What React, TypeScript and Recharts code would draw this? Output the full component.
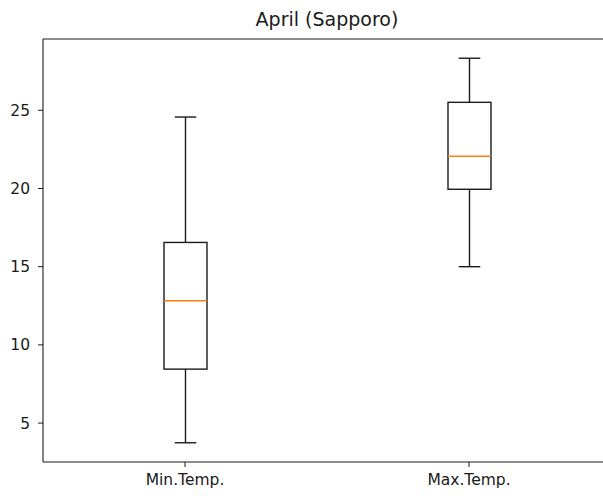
import { Bar, ComposedChart, ReferenceLine, XAxis, YAxis } from 'recharts';

const categories = ['Min.Temp.', 'Max.Temp.'];
const whiskerLow = [3.74, 15.0];
const q1 = [8.45, 19.95];
const median = [12.82, 22.06];
const q3 = [16.55, 25.51];
const whiskerHigh = [24.57, 28.33];
const yTicks = [5, 10, 15, 20, 25];

const data = categories.map((name, i) => ({
  name,
  low: whiskerLow[i],
  q1: q1[i],
  median: median[i],
  q3: q3[i],
  high: whiskerHigh[i],
}));

const lo = Math.min(...whiskerLow);
const hi = Math.max(...whiskerHigh);
const pad = (hi - lo) * 0.05;
const yDomain: [number, number] = [lo - pad, hi + pad];

const INK = '#1a1a1a';
const FONT = '"DejaVu Sans", sans-serif';

// The bar spans low..high whisker; the rest of the box is placed on the same pixel scale.
function BoxShape(props: any) {
  const { x, y, width, height, payload } = props;
  const { low, high } = payload;
  const py = (v: number) => y + ((high - v) / (high - low)) * height;
  const cx = x + width / 2;
  const capHalf = width / 4;
  const top = py(payload.q3);
  const bottom = py(payload.q1);
  return (
    <g stroke={INK} strokeWidth={1.4} fill="none">
      <line x1={cx} x2={cx} y1={py(high)} y2={top} />
      <line x1={cx} x2={cx} y1={bottom} y2={py(low)} />
      <line x1={cx - capHalf} x2={cx + capHalf} y1={py(high)} y2={py(high)} />
      <line x1={cx - capHalf} x2={cx + capHalf} y1={py(low)} y2={py(low)} />
      <rect x={x} y={top} width={width} height={bottom - top} />
      <line
        x1={x}
        x2={x + width}
        y1={py(payload.median)}
        y2={py(payload.median)}
        stroke="#ff7f0e"
      />
    </g>
  );
}

export default function App() {
  return (
    <div
      style={{
        position: 'absolute',
        left: 0,
        top: 0,
        width: 603,
        height: 498,
        overflow: 'hidden',
        background: '#fff',
        fontFamily: FONT,
      }}
    >
      <div
        style={{
          position: 'absolute',
          left: 43,
          width: 568,
          top: 8,
          textAlign: 'center',
          fontSize: 19,
          color: INK,
        }}
      >
        April (Sapporo)
      </div>
      <ComposedChart
        width={620}
        height={498}
        data={data}
        margin={{ top: 39, right: 9, bottom: 0, left: 0 }}
        barCategoryGap={0}
      >
        <XAxis
          dataKey="name"
          height={36}
          tickSize={5}
          tickMargin={7}
          stroke={INK}
          axisLine={{ stroke: INK, strokeWidth: 1.1 }}
          tick={{ fill: INK, fontSize: 15.5, fontFamily: FONT }}
        />
        <YAxis
          type="number"
          domain={yDomain}
          ticks={yTicks}
          width={43}
          tickSize={5}
          tickMargin={8}
          stroke={INK}
          axisLine={{ stroke: INK, strokeWidth: 1.1 }}
          tick={{ fill: INK, fontSize: 15.5, fontFamily: FONT }}
          allowDataOverflow
        />
        <ReferenceLine y={yDomain[1]} stroke={INK} strokeWidth={1.1} />
        <Bar
          dataKey={(d: any) => [d.low, d.high]}
          barSize={43}
          shape={BoxShape}
          isAnimationActive={false}
        />
      </ComposedChart>
    </div>
  );
}
